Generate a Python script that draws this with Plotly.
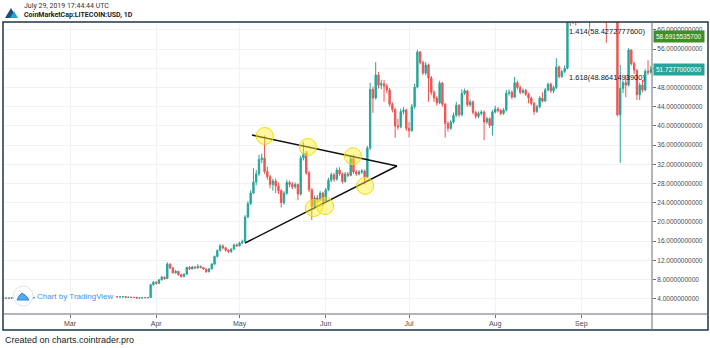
import pandas as pd
import plotly.graph_objects as go

# ---------------- data ----------------
start_date = "2019-02-04"
first_open = 4.15

closes = [
    4.12, 4.08, 4.15, 4.10, 4.18, 4.22, 4.16,
    4.20, 4.14, 4.18, 4.12, 4.16, 4.24, 4.30,
    4.42, 4.36, 4.40, 4.52, 4.38, 4.30, 4.34,
    4.20, 4.24, 4.18, 4.22, 4.20, 4.24, 4.18,
    4.10, 4.28, 4.26, 4.30, 4.26, 4.32, 4.30,
    4.24, 4.27, 4.25, 4.28, 4.34, 4.36, 4.40,
    4.35, 4.37, 4.42, 4.30, 4.32, 4.28, 4.26,
    4.12, 4.16, 4.22, 4.20, 4.24, 6.90, 7.45,
    7.20, 7.90, 8.50, 8.20, 11.20, 10.40, 9.40,
    9.70, 9.00, 8.60, 9.10, 10.50, 10.20, 10.60,
    10.40, 10.70, 10.50, 10.20, 9.60, 10.20, 11.20,
    12.80, 14.00, 15.00, 14.60, 14.10, 13.80, 14.30,
    15.20, 15.00, 15.60, 15.90, 21.00, 23.80, 26.00,
    28.30, 30.00, 33.00, 33.30, 30.50, 29.40, 27.80,
    28.50, 27.50, 26.50, 24.00, 26.00, 28.20, 27.80,
    27.30, 27.80, 25.80, 33.30, 34.30, 30.20, 26.70,
    23.20, 25.00, 24.70, 26.00, 24.30, 26.70, 28.70,
    29.80, 28.90, 30.80, 30.00, 28.40, 30.00, 29.70,
    33.20, 30.40, 30.00, 30.40, 30.60, 29.40, 35.40,
    47.60, 45.80, 50.60, 48.50, 48.80, 48.30, 47.50,
    44.50, 43.40, 40.00, 39.80, 43.00, 43.30, 39.50,
    39.00, 44.00, 48.10, 55.40, 53.20, 51.00, 52.70,
    50.00, 47.00, 45.80, 44.80, 48.90, 44.50, 40.50,
    39.50, 40.80, 42.20, 44.30, 42.30, 46.80, 47.30,
    44.40, 45.00, 42.80, 42.00, 42.60, 42.90, 40.80,
    41.50, 40.10, 42.90, 43.50, 43.20, 42.60, 43.30,
    46.80, 47.00, 46.00, 49.00, 48.00, 47.00, 47.40,
    46.60, 45.80, 44.70, 43.00, 44.00, 45.80, 45.20,
    47.50, 48.70, 47.30, 48.00, 52.30, 50.30, 51.30,
    52.00, 66.00, 65.00, 66.50, 64.80, 66.20, 67.50,
    68.20, 66.80, 67.60, 69.00, 70.20, 68.80, 69.50,
    67.20, 65.40, 66.80, 68.10, 66.00, 42.30, 47.80,
    49.00, 48.50, 55.80, 53.00, 51.60, 46.50, 48.50,
    47.50, 51.40, 51.20, 51.7277,
]

highs = [
    4.20, 4.16, 4.19, 4.18, 4.22, 4.26, 4.25,
    4.24, 4.23, 4.21, 4.20, 4.19, 4.28, 4.35,
    4.48, 4.46, 4.45, 4.58, 4.55, 4.41, 4.38,
    4.36, 4.28, 4.27, 4.25, 4.25, 4.28, 4.27,
    4.20, 4.31, 4.32, 4.34, 4.33, 4.36, 4.35,
    4.33, 4.31, 4.30, 4.32, 4.38, 4.40, 4.45,
    4.43, 4.41, 4.47, 4.44, 4.36, 4.35, 4.31,
    4.28, 4.20, 4.26, 4.26, 4.28, 7.10, 7.70,
    7.60, 8.10, 8.70, 8.60, 11.60, 11.40, 10.60,
    10.00, 9.80, 9.20, 9.30, 10.70, 10.80, 10.80,
    10.80, 11.20, 10.90, 10.60, 10.30, 10.40, 11.40,
    13.00, 14.30, 15.40, 15.30, 14.80, 14.30, 14.50,
    15.50, 15.50, 15.90, 16.30, 21.40, 24.30, 26.60,
    31.20, 30.80, 34.00, 34.20, 38.00, 31.50, 29.80,
    29.00, 29.00, 28.20, 26.80, 26.40, 28.80, 28.60,
    28.30, 28.20, 28.00, 33.80, 36.60, 34.80, 30.60,
    27.00, 25.50, 25.60, 26.40, 26.30, 27.00, 29.20,
    30.30, 30.20, 31.30, 31.40, 30.30, 30.40, 30.40,
    33.60, 34.00, 30.80, 30.80, 31.00, 30.90, 35.80,
    49.00, 48.20, 53.30, 51.20, 49.60, 49.60, 48.80,
    47.90, 44.90, 43.80, 41.50, 43.60, 43.90, 43.60,
    40.80, 44.60, 48.80, 55.80, 55.60, 53.60, 53.30,
    53.00, 50.40, 47.40, 46.20, 49.40, 49.20, 44.80,
    41.00, 41.20, 42.80, 45.00, 44.60, 47.60, 47.80,
    47.50, 45.50, 45.30, 43.20, 43.00, 43.30, 43.20,
    41.90, 41.80, 43.30, 44.20, 43.90, 43.50, 43.70,
    47.50, 47.60, 47.40, 50.20, 49.40, 48.40, 47.80,
    47.70, 46.90, 46.10, 45.00, 44.40, 46.20, 47.00,
    47.90, 49.00, 49.00, 48.40, 54.10, 52.60, 51.70,
    52.60, 68.00, 67.50, 67.80, 67.00, 67.00, 68.40,
    69.50, 69.00, 68.50, 70.00, 71.50, 71.00, 70.50,
    70.00, 68.00, 67.50, 69.00, 68.50, 66.80, 52.70,
    49.50, 50.50, 56.20, 56.00, 53.40, 51.80, 49.00,
    49.60, 51.80, 53.70, 52.50,
]

lows = [
    4.06, 4.04, 4.05, 4.07, 4.08, 4.15, 4.12,
    4.13, 4.10, 4.11, 4.09, 4.10, 4.14, 4.21,
    4.28, 4.32, 4.33, 4.38, 4.34, 4.26, 4.27,
    4.16, 4.17, 4.14, 4.15, 4.16, 4.17, 4.14,
    4.06, 4.08, 4.22, 4.23, 4.22, 4.24, 4.26,
    4.20, 4.21, 4.22, 4.22, 4.25, 4.31, 4.33,
    4.31, 4.32, 4.34, 4.26, 4.27, 4.24, 4.22,
    4.08, 4.09, 4.13, 4.16, 4.17, 4.20, 6.70,
    6.95, 7.10, 7.80, 7.95, 8.10, 10.20, 9.20,
    9.20, 8.80, 8.40, 8.50, 9.00, 10.00, 10.10,
    10.20, 10.30, 10.30, 10.00, 9.40, 9.50, 10.10,
    11.10, 12.60, 13.90, 14.30, 13.80, 13.50, 13.60,
    14.20, 14.80, 14.90, 15.40, 15.70, 20.80, 23.50,
    25.80, 27.60, 29.60, 32.20, 30.00, 28.80, 27.00,
    26.50, 26.00, 25.80, 23.00, 23.60, 25.60, 27.20,
    26.80, 26.90, 24.50, 25.50, 32.80, 29.80, 26.20,
    20.40, 22.60, 24.00, 24.30, 23.30, 24.00, 26.40,
    28.30, 28.40, 28.60, 29.60, 28.00, 28.20, 29.30,
    29.50, 30.00, 29.60, 29.70, 30.00, 27.80, 29.20,
    35.00, 42.70, 45.50, 47.80, 47.60, 45.00, 46.80,
    44.00, 42.80, 37.50, 39.20, 39.50, 42.40, 39.00,
    37.60, 38.80, 43.60, 47.80, 52.80, 50.60, 50.60,
    45.00, 46.40, 45.00, 44.20, 44.50, 44.00, 37.60,
    38.80, 39.20, 40.50, 41.90, 41.90, 42.00, 46.40,
    44.00, 44.00, 42.40, 41.50, 41.60, 42.20, 37.00,
    40.40, 39.60, 38.00, 42.60, 42.80, 42.20, 42.30,
    43.00, 46.30, 45.60, 45.80, 47.60, 46.60, 46.70,
    46.20, 44.70, 44.30, 42.30, 42.70, 43.70, 44.90,
    45.00, 47.20, 46.90, 46.80, 47.70, 49.90, 50.00,
    51.00, 51.80, 60.80, 61.20, 60.90, 61.40, 63.00,
    66.00, 64.50, 60.30, 66.50, 68.00, 67.50, 67.80,
    66.00, 57.30, 63.50, 65.50, 64.50, 42.00, 32.30,
    46.80, 46.00, 48.20, 52.60, 50.80, 45.40, 45.40,
    47.00, 47.20, 50.60, 50.90,
]

month_ticks = ["2019-03-01", "2019-04-01", "2019-05-01", "2019-06-01",
               "2019-07-01", "2019-08-01", "2019-09-01"]
month_labels = ["Mar", "Apr", "May", "Jun", "Jul", "Aug", "Sep"]
price_ticks = [4, 8, 12, 16, 20, 24, 28, 32, 36, 40, 44, 48, 52, 56, 60]

# triangle trendlines (drawn on chart)
upper_line_x = ["2019-05-05 11:45", "2019-06-26 16:00"]
upper_line_y = [38.1, 31.65]
lower_line_x = ["2019-05-03 00:00", "2019-06-26 16:00"]
lower_line_y = [15.6, 31.65]

# highlighted touch points (yellow circles)
touch_x = ["2019-05-10 02:00", "2019-05-25 14:00", "2019-06-10 19:00",
           "2019-05-27 17:00", "2019-05-31 19:00", "2019-06-15 05:00"]
touch_y = [37.9, 35.6, 33.7, 22.9, 23.3, 27.5]

fib_levels = [58.4272777600, 48.8641493900]
fib_names = ["1.414", "1.618"]
fib_label_x = "2019-08-26 22:00"

marker_price = 58.6915535700
last_price = 51.7277000000

dates = pd.date_range(start_date, periods=len(closes), freq="D")
opens = [first_open] + closes[:-1]

# ---------------- layout helpers (pixel -> paper) ----------------
W, H = 710, 348
L, R, T, B = 3, 58, 22, 34
PW, PH = W - L - R, H - T - B


def px(x):
    return (x - L) / PW


def py(y):
    return (H - B - y) / PH


fig = go.Figure()

fig.add_trace(go.Candlestick(
    x=dates, open=opens, high=highs, low=lows, close=closes,
    increasing=dict(line=dict(color="#26a69a", width=1), fillcolor="#26a69a"),
    decreasing=dict(line=dict(color="#ef5350", width=1), fillcolor="#ef5350"),
    showlegend=False, hoverinfo="skip",
))

fig.add_trace(go.Scatter(x=upper_line_x, y=upper_line_y, mode="lines",
                         line=dict(color="#111111", width=1.5),
                         showlegend=False, hoverinfo="skip"))
fig.add_trace(go.Scatter(x=lower_line_x, y=lower_line_y, mode="lines",
                         line=dict(color="#111111", width=1.5),
                         showlegend=False, hoverinfo="skip"))
fig.add_trace(go.Scatter(x=touch_x, y=touch_y, mode="markers",
                         marker=dict(size=17, color="rgba(255,240,40,0.45)",
                                     line=dict(color="rgba(235,215,0,0.9)", width=1)),
                         showlegend=False, hoverinfo="skip"))

annotations = []
for name, lvl in zip(fib_names, fib_levels):
    annotations.append(dict(
        x=fib_label_x, y=lvl, xref="x", yref="y",
        text=f"{name}({lvl:.10f})", showarrow=False,
        xanchor="left", yanchor="bottom", yshift=-1,
        font=dict(family="Liberation Sans, Arial", size=7.5, color="#131722")))

for val, bg in [(marker_price, "#3e8e2a"), (last_price, "#26a69a")]:
    annotations.append(dict(
        x=px(653), y=val, xref="paper", yref="y",
        text=f"{val:.10f}", showarrow=False, xanchor="left", yanchor="middle",
        bgcolor=bg, borderpad=2,
        font=dict(family="Liberation Sans, Arial", size=6.5, color="#ffffff")))

annotations += [
    dict(x=px(22), y=py(6), xref="paper", yref="paper",
         text="July 29, 2019 17:44:44 UTC", showarrow=False,
         xanchor="left", yanchor="middle",
         font=dict(family="Roboto, Arial", size=7, color="#333333")),
    dict(x=px(22), y=py(15), xref="paper", yref="paper",
         text="<b>CoinMarketCap:LITECOIN:USD, 1D</b>", showarrow=False,
         xanchor="left", yanchor="middle",
         font=dict(family="Roboto, Arial", size=7, color="#1a1a1a")),
    dict(x=px(3), y=py(340), xref="paper", yref="paper",
         text="Created on charts.cointrader.pro", showarrow=False,
         xanchor="left", yanchor="middle",
         font=dict(family="Liberation Sans, Arial", size=9, color="#222222")),
    dict(x=px(35), y=py(296), xref="paper", yref="paper",
         text="Chart by TradingView", showarrow=False,
         xanchor="left", yanchor="middle", bgcolor="#ffffff", borderpad=1,
         font=dict(family="Liberation Sans, Arial", size=8, color="#3d94e6")),
]

shapes = [
    # outer frame
    dict(type="rect", xref="paper", yref="paper",
         x0=px(3), x1=px(708), y0=py(330), y1=py(22),
         line=dict(color="#203448", width=1.5), fillcolor="rgba(0,0,0,0)", layer="above"),
    # price scale separator
    dict(type="line", xref="paper", yref="paper",
         x0=px(652), x1=px(652), y0=py(22), y1=py(330),
         line=dict(color="#6a6d78", width=1)),
    # time scale separator
    dict(type="line", xref="paper", yref="paper",
         x0=px(3), x1=px(708), y0=py(314), y1=py(314),
         line=dict(color="#6a6d78", width=1)),
    # header logo
    dict(type="path", xref="paper", yref="paper",
         path=f"M {px(5)},{py(18)} L {px(11)},{py(8)} L {px(14)},{py(13)} L {px(12)},{py(18)} Z",
         fillcolor="#1d4f78", line=dict(width=0)),
    dict(type="path", xref="paper", yref="paper",
         path=f"M {px(10)},{py(18)} L {px(14)},{py(11)} L {px(18)},{py(18)} Z",
         fillcolor="#2aa3c6", line=dict(width=0)),
    # watermark badge
    dict(type="circle", xref="paper", yref="paper",
         x0=px(13), x1=px(33), y0=py(306), y1=py(286), layer="above",
         fillcolor="#ffffff", line=dict(color="#e0e3eb", width=1)),
    dict(type="path", xref="paper", yref="paper", layer="above",
         path=(f"M {px(17)},{py(300)} L {px(19)},{py(296)} L {px(22)},{py(293)} "
               f"L {px(25)},{py(295)} L {px(27)},{py(297)} L {px(29)},{py(300)} Z"),
         fillcolor="#56a8ee", line=dict(color="#2f88d8", width=1)),
]

fig.update_layout(
    width=W, height=H,
    margin=dict(l=L, r=R, t=T, b=B),
    paper_bgcolor="#ffffff", plot_bgcolor="#ffffff",
    showlegend=False,
    annotations=annotations,
    shapes=shapes,
    xaxis=dict(
        type="date",
        range=["2019-02-04 21:00", "2019-09-26 10:20"],
        rangeslider=dict(visible=False),
        tickvals=month_ticks, ticktext=month_labels,
        showgrid=True, gridcolor="#f0f2f6", gridwidth=1,
        ticks="outside", ticklen=3, tickcolor="#6a6d78",
        tickfont=dict(family="Liberation Sans, Arial", size=7, color="#4a4a4a"),
        showline=False, zeroline=False,
    ),
    yaxis=dict(
        side="right",
        range=[0.81, 61.65],
        tickvals=price_ticks, tickformat=".10f",
        showgrid=True, gridcolor="#f0f2f6", gridwidth=1,
        ticks="outside", ticklen=3, tickcolor="#6a6d78",
        tickfont=dict(family="Liberation Sans, Arial", size=6.5, color="#4a4a4a"),
        showline=False, zeroline=False,
    ),
)

fig.write_html("out.html")
